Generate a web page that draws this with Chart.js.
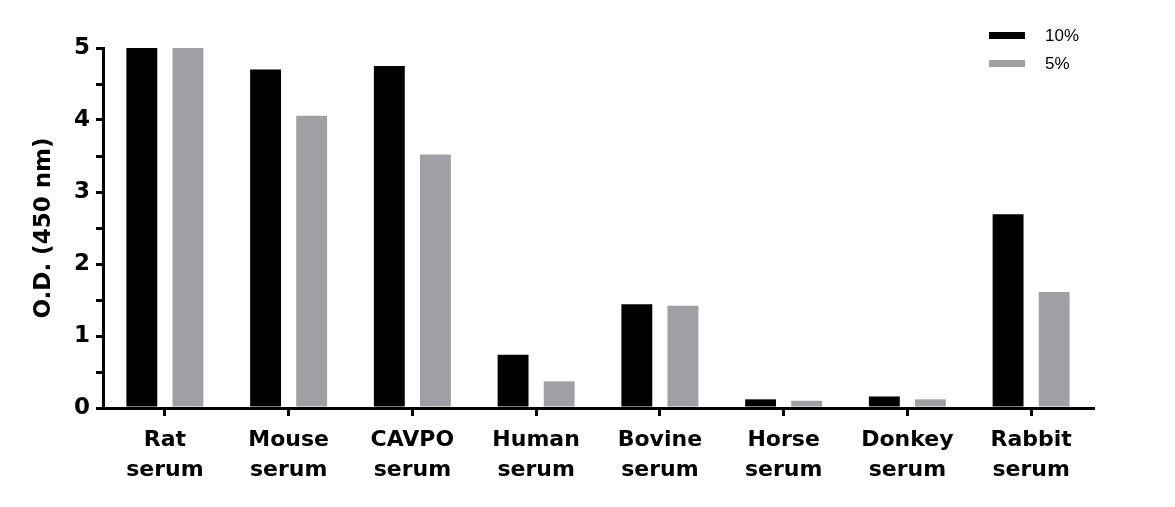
<!DOCTYPE html>
<html>
<head>
<meta charset="utf-8">
<script src="https://cdn.jsdelivr.net/npm/chart.js@4/dist/chart.umd.min.js"></script>
<style>
  html, body { margin: 0; padding: 0; background: #fff; }
  #wrap { width: 1175px; height: 507px; }
</style>
</head>
<body>
<div id="wrap"><canvas id="chart" width="1175" height="507"></canvas></div>
<script>
var categories = [
    ["Rat", "serum"], ["Mouse", "serum"], ["CAVPO", "serum"], ["Human", "serum"],
    ["Bovine", "serum"], ["Horse", "serum"], ["Donkey", "serum"], ["Rabbit", "serum"]
];
var seriesNames = ["10%", "5%"];
var values10 = [5.0, 4.70, 4.75, 0.74, 1.44, 0.12, 0.16, 2.69];
var values5 = [5.0, 4.06, 3.52, 0.37, 1.42, 0.10, 0.12, 1.61];
var yTicks = [0, 1, 2, 3, 4, 5];

var labelFont = { family: "DejaVu Sans", weight: "bold", size: 22, lineHeight: 1.36 };

// legend drawn as two stacked rows in the top right corner
var stackedLegend = {
    id: 'stackedLegend',
    afterDraw: function(chart) {
        var c = chart.ctx;
        c.save();
        chart.data.datasets.forEach(function(ds, i) {
            var y = 35 + i * 28;
            c.fillStyle = ds.backgroundColor;
            c.fillRect(989, y - 3, 36, 7);
            c.fillStyle = '#000';
            c.font = '17px "Liberation Sans"';
            c.textBaseline = 'middle';
            c.fillText(ds.label, 1045, y + 1);
        });
        c.restore();
    }
};

var ctx = document.getElementById("chart").getContext("2d");
var myChart = new Chart(ctx, {
    type: 'bar',
    data: {
        labels: categories,
        datasets: [
            { label: seriesNames[0], data: values10, backgroundColor: '#000000',
              categoryPercentage: 0.745, barPercentage: 0.67 },
            { label: seriesNames[1], data: values5, backgroundColor: '#a0a0a4',
              categoryPercentage: 0.745, barPercentage: 0.67 }
        ]
    },
    options: {
        responsive: false,
        animation: false,
        layout: { padding: { top: 48, right: 82, left: 0, bottom: 0 } },
        plugins: {
            legend: { display: false },
            tooltip: { enabled: false }
        },
        scales: {
            x: {
                afterFit: function(axis) { axis.height = 99; },
                border: { color: '#000', width: 3 },
                grid: { offset: false, drawOnChartArea: false, color: '#000', lineWidth: 3, tickLength: 8 },
                ticks: { color: '#000', font: labelFont, padding: 9, maxRotation: 0, autoSkip: false }
            },
            y: {
                min: 0, max: 5,
                afterFit: function(axis) { axis.width = 103; },
                border: { color: '#000', width: 3 },
                grid: { drawOnChartArea: false, color: '#000', lineWidth: 3, tickLength: 7 },
                ticks: {
                    stepSize: 0.5, color: '#000', font: { family: "DejaVu Sans", weight: "bold", size: 23 }, padding: 6,
                    callback: function(v) { return yTicks.indexOf(v) >= 0 ? v : ''; }
                },
                title: {
                    display: true, text: 'O.D. (450 nm)', color: '#000',
                    font: { family: "DejaVu Sans", weight: "bold", size: 23 },
                    padding: { top: 30, bottom: 0 }
                }
            }
        }
    },
    plugins: [stackedLegend]
});
</script>
</body>
</html>
